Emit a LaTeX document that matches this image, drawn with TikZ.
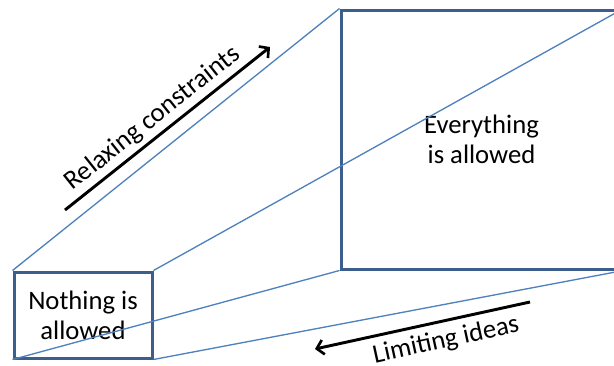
\documentclass[tikz,border=0pt]{standalone}
\usepackage{fontspec}
\setmainfont{Carlito}
\usepackage{tikz}
\usetikzlibrary{positioning, arrows.meta, calc}
\usepackage{xcolor}
\definecolor{boxcol}{HTML}{3B5E8C}
\definecolor{linecol}{HTML}{4F81BD}
\tikzset{
  % thick framed box = idea space
  ideabox/.style={draw=boxcol, line width=2.25pt, fill=none,
                  align=center, inner sep=0pt,
                  font=\fontsize{20}{22.5}\selectfont},
  % thin perspective edge
  edge/.style={draw=linecol, line width=1pt},
  % black direction arrow
  dirarrow/.style={draw=black, line width=2.2pt,
                   -{Straight Barb[length=5pt, width=11pt, line width=2pt]}},
  dirlabel/.style={font=\fontsize{20}{22.5}\selectfont, sloped, inner sep=3pt},
}

\begin{document}
\begin{tikzpicture}[x=0.75pt, y=-0.75pt]
  \useasboundingbox (0,0) rectangle (614,365);
  \clip (0,0) rectangle (614,365);
  % the two boxes
  \node[ideabox, minimum width=103.5pt, minimum height=64.5pt]
    (nothing) at (83,315) {Nothing is\\allowed};
  \node[ideabox, minimum width=210.75pt, minimum height=194.25pt]
    (everything) at (481.5,139.5) {Everything\\is allowed};
  % perspective edges
  \draw[edge] (nothing.north west) -- (everything.north west);
  \draw[edge] (nothing.north east) -- (everything.north east);
  \draw[edge] (nothing.south west) -- (everything.south west);
  \draw[edge] (nothing.south east) -- (everything.south east);
  % direction arrows
  \coordinate (relaxfrom) at (65,210);
  \coordinate (relaxto)   at (270,47);
  \coordinate (limitfrom) at (530,302);
  \coordinate (limitto)   at (315,349);
  \draw[dirarrow] (relaxfrom) -- node[dirlabel, above, pos=0.48]
    {Relaxing constraints} (relaxto);
  \draw[dirarrow] (limitfrom) -- node[dirlabel, below, pos=0.41, inner sep=5pt]
    {Limiting ideas} (limitto);
\end{tikzpicture}
\end{document}
